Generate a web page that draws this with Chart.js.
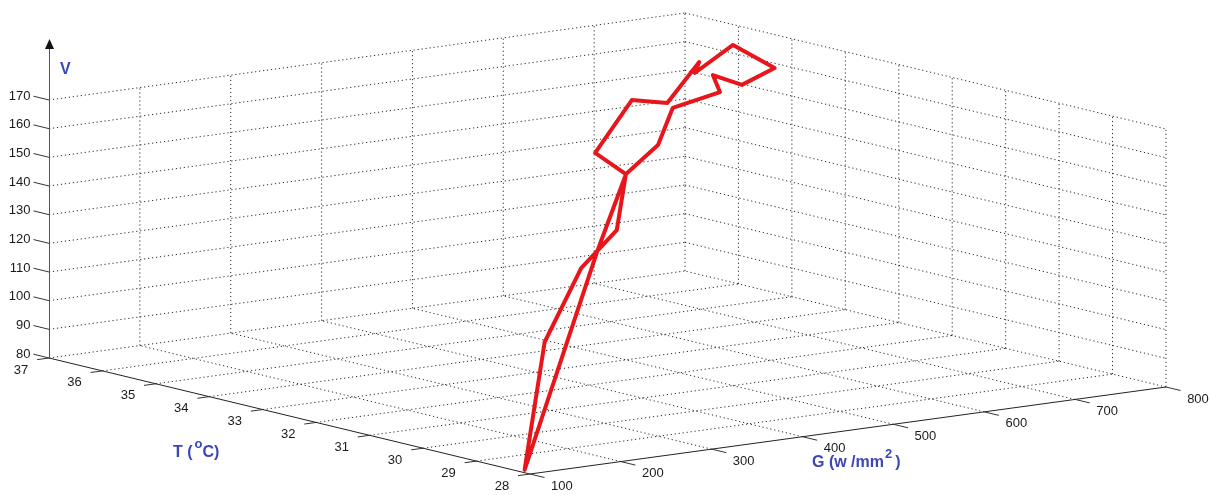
<!DOCTYPE html>
<html>
<head>
<meta charset="utf-8">
<script src="https://cdn.jsdelivr.net/npm/chart.js@4.4.1/dist/chart.umd.min.js"></script>
<style>
  html, body { margin: 0; padding: 0; background: #fff; }
  #wrap { width: 1210px; height: 495px; }
</style>
</head>
<body>
<div id="wrap"><canvas id="chart" width="1210" height="495"></canvas></div>
<script>
'use strict';

// axis ticks
let gTicks = [100, 200, 300, 400, 500, 600, 700, 800];
let tTicks = [28, 29, 30, 31, 32, 33, 34, 35, 36, 37];
let vTicks = [80, 90, 100, 110, 120, 130, 140, 150, 160, 170];

// measured path (G irradiance, T temperature, V voltage)
let irradiance  = [100, 175, 274, 372, 382, 407, 565, 604, 698, 693, 794, 781, 745, 713, 662, 610, 535, 441, 291, 100];
let temperature = [28.1, 29, 30, 31, 31, 32, 34, 34, 35, 35, 36, 35, 35, 35, 34, 34, 33, 32, 30, 28.1];
let voltage     = [81, 118.3, 135.3, 139.8, 158.9, 160.7, 163.3, 160.6, 166.3, 162.7, 163.6, 160.6, 156.3, 161.1, 161.9, 158.6, 153.4, 151.9, 139.8, 81];

let gMin = gTicks[0], gMax = gTicks[gTicks.length - 1];
let tMin = tTicks[0], tMax = tTicks[tTicks.length - 1];
let vMin = vTicks[0], vMax = vTicks[vTicks.length - 1];

// view of the 3d box: corner (gMin, tMax, vMin) and step per unit on each axis
let view = {
  origin: [49, 358],
  perG: [0.9086, -0.1243],
  perT: [-53.44, -12.89],
  perV: [0, -2.8667]
};

function project(g, t, v) {
  return {
    x: view.origin[0] + (g - gMin) * view.perG[0] + (t - tMax) * view.perT[0] + (v - vMin) * view.perV[0],
    y: view.origin[1] + (g - gMin) * view.perG[1] + (t - tMax) * view.perT[1] + (v - vMin) * view.perV[1]
  };
}

let gridColor = 'rgba(20,20,20,0.9)';
let axisColor = '#333';
let datasets = [];

datasets.push({
  label: 'V',
  data: irradiance.map((g, i) => project(g, temperature[i], voltage[i])),
  borderColor: '#e8161b',
  borderWidth: 4,
  borderJoinStyle: 'round',
  borderCapStyle: 'round',
  showLine: true,
  pointRadius: 0,
  order: 0
});

function segment(p, q, solid, color) {
  datasets.push({
    data: [p, q],
    borderColor: color || (solid ? axisColor : gridColor),
    borderWidth: 1,
    borderDash: solid ? [] : [1.2, 2.8],
    showLine: true,
    pointRadius: 0,
    order: 1
  });
}

// floor
gTicks.slice(1).forEach(g => segment(project(g, tMin, vMin), project(g, tMax, vMin)));
tTicks.slice(1).forEach(t => segment(project(gMin, t, vMin), project(gMax, t, vMin)));
// back wall T = 37
vTicks.slice(1).forEach(v => segment(project(gMin, tMax, v), project(gMax, tMax, v)));
gTicks.slice(1).forEach(g => segment(project(g, tMax, vMin), project(g, tMax, vMax)));
// back wall G = 800
vTicks.slice(1).forEach(v => segment(project(gMax, tMax, v), project(gMax, tMin, v)));
tTicks.slice(0, -1).forEach(t => segment(project(gMax, t, vMin), project(gMax, t, vMax)));
// axes
segment(project(gMin, tMax, vMin), project(gMin, tMin, vMin), true, '#222');
segment(project(gMin, tMin, vMin), project(gMax, tMin, vMin), true, '#222');

let labelBlue = '#3c46b9';

function drawPieces(ctx, x, y, pieces) {
  pieces.forEach(p => {
    ctx.font = p.font;
    ctx.fillText(p.text, x, y - (p.rise || 0));
    x += ctx.measureText(p.text).width + (p.gap || 0);
  });
}

let axesPlugin = {
  id: 'axes3d',
  afterDatasetsDraw(chart) {
    let ctx = chart.ctx;
    let sx = chart.scales.x, sy = chart.scales.y;
    let px = p => ({ x: sx.getPixelForValue(p.x), y: sy.getPixelForValue(p.y) });
    ctx.save();

    // vertical axis with arrow
    let base = px(project(gMin, tMax, vMin));
    ctx.strokeStyle = '#555';
    ctx.lineWidth = 1;
    ctx.beginPath();
    ctx.moveTo(base.x + 0.5, base.y);
    ctx.lineTo(base.x + 0.5, 48);
    ctx.stroke();
    ctx.fillStyle = '#111';
    ctx.beginPath();
    ctx.moveTo(base.x + 0.5, 39);
    ctx.lineTo(base.x - 4, 49);
    ctx.lineTo(base.x + 5, 49);
    ctx.closePath();
    ctx.fill();

    ctx.strokeStyle = '#333';
    ctx.fillStyle = '#1a1a1a';
    ctx.font = "13px 'Liberation Sans', Arial, sans-serif";
    ctx.textBaseline = 'middle';

    // V ticks
    ctx.textAlign = 'right';
    vTicks.forEach(v => {
      let a = px(project(gMin, tMax, v));
      let b = { x: a.x - 15.5, y: a.y - 3.8 };
      ctx.beginPath(); ctx.moveTo(a.x, a.y); ctx.lineTo(b.x, b.y); ctx.stroke();
      ctx.fillText(String(v), b.x - 3, b.y);
    });

    // T ticks
    ctx.textAlign = 'center';
    tTicks.forEach(t => {
      let a = px(project(gMin, t, vMin));
      ctx.beginPath(); ctx.moveTo(a.x, a.y); ctx.lineTo(a.x - 11.9, a.y + 1.6); ctx.stroke();
      ctx.fillText(String(t), a.x - 28, a.y + 12);
    });

    // G ticks
    gTicks.forEach(g => {
      let a = px(project(g, tMin, vMin));
      ctx.beginPath(); ctx.moveTo(a.x, a.y); ctx.lineTo(a.x + 14.6, a.y + 3.5); ctx.stroke();
      ctx.fillText(String(g), a.x + 32, a.y + 12);
    });

    // axis titles
    ctx.fillStyle = labelBlue;
    ctx.textAlign = 'left';
    ctx.textBaseline = 'alphabetic';
    let bold = "bold 16px 'Liberation Sans', Arial, sans-serif";
    let sup = "bold 13px 'Liberation Sans', Arial, sans-serif";
    drawPieces(ctx, 60, 74, [{ text: 'V', font: bold }]);
    drawPieces(ctx, 173, 457, [
      { text: 'T (', font: bold, gap: 2 },
      { text: 'o', font: sup, rise: 9 },
      { text: 'C)', font: bold }
    ]);
    drawPieces(ctx, 812, 467, [
      { text: 'G (w /mm', font: bold, gap: 1 },
      { text: '2', font: sup, rise: 9, gap: 3 },
      { text: ')', font: bold }
    ]);
    ctx.restore();
  }
};

new Chart(document.getElementById('chart'), {
  type: 'scatter',
  data: { datasets: datasets },
  options: {
    responsive: false,
    animation: false,
    events: [],
    layout: { padding: 0 },
    plugins: { legend: { display: false }, tooltip: { enabled: false } },
    scales: {
      x: { type: 'linear', min: 0, max: 1210, display: false },
      y: { type: 'linear', min: 0, max: 495, reverse: true, display: false }
    }
  },
  plugins: [axesPlugin]
});
</script>
</body>
</html>
